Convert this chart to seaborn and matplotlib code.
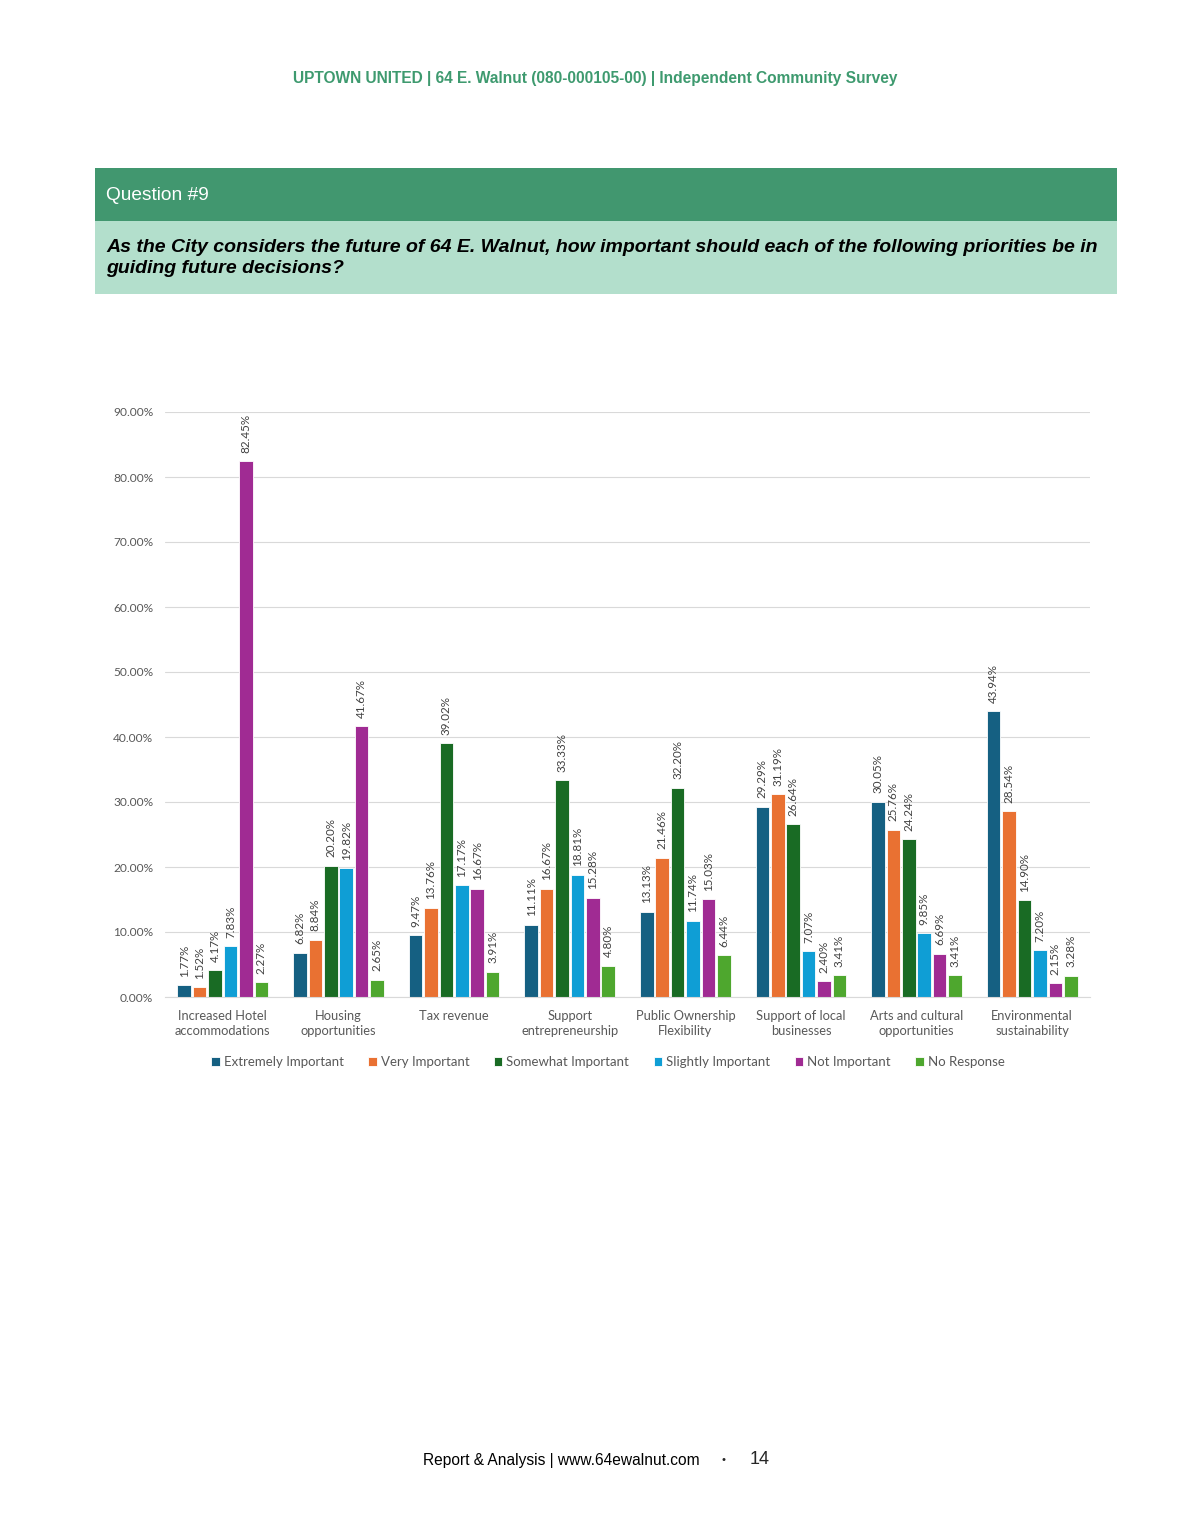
import numpy as np
import pandas as pd
import matplotlib
matplotlib.use("Agg")
import matplotlib.pyplot as plt
import seaborn as sns
from matplotlib.patches import Rectangle

# data (percent of responses)
categories = [
    "Increased Hotel\naccommodations",
    "Housing\nopportunities",
    "Tax revenue",
    "Support\nentrepreneurship",
    "Public Ownership\nFlexibility",
    "Support of local\nbusinesses",
    "Arts and cultural\nopportunities",
    "Environmental\nsustainability",
]
levels = ["Extremely Important", "Very Important", "Somewhat Important",
          "Slightly Important", "Not Important", "No Response"]

extremely = [1.77, 6.82, 9.47, 11.11, 13.13, 29.29, 30.05, 43.94]
very = [1.52, 8.84, 13.76, 16.67, 21.46, 31.19, 25.76, 28.54]
somewhat = [4.17, 20.20, 39.02, 33.33, 32.20, 26.64, 24.24, 14.90]
slightly = [7.83, 19.82, 17.17, 18.81, 11.74, 7.07, 9.85, 7.20]
not_imp = [82.45, 41.67, 16.67, 15.28, 15.03, 2.40, 6.69, 2.15]
no_resp = [2.27, 2.65, 3.91, 4.80, 6.44, 3.41, 3.41, 3.28]

yticks = [0, 10, 20, 30, 40, 50, 60, 70, 80, 90]

colors = ["#156082", "#E97132", "#196B24", "#0F9ED5", "#A02B93", "#4EA72E"]

wide = pd.DataFrame({
    "Category": categories,
    levels[0]: extremely,
    levels[1]: very,
    levels[2]: somewhat,
    levels[3]: slightly,
    levels[4]: not_imp,
    levels[5]: no_resp,
})
df = wide.melt(id_vars="Category", var_name="Level", value_name="Pct")

sns.set_style("white")
plt.rcParams["font.family"] = ["Lato", "DejaVu Sans"]

fig = plt.figure(figsize=(11.9, 15.4), dpi=100)

# page header
fig.text(0.5, 1 - 79 / 1540, "UPTOWN UNITED | 64 E. Walnut (080-000105-00) | Independent Community Survey",
         ha="center", va="center", fontsize=11.2, fontweight="bold", color="#3E9A6F",
         family="Liberation Sans")

# question boxes
fig.add_artist(Rectangle((95 / 1190, 1 - 221 / 1540), 1022 / 1190, 53 / 1540,
                         transform=fig.transFigure, color="#41976F", lw=0))
fig.add_artist(Rectangle((95 / 1190, 1 - 294 / 1540), 1022 / 1190, 73 / 1540,
                         transform=fig.transFigure, color="#B3DFCC", lw=0))
fig.text(106 / 1190, 1 - 195 / 1540, "Question #9", ha="left", va="center",
         fontsize=13.8, color="white", family="Liberation Sans")
fig.text(106 / 1190, 1 - 258 / 1540,
         "As the City considers the future of 64 E. Walnut, how important should each of the following priorities be in\nguiding future decisions?",
         ha="left", va="center", fontsize=14, fontweight="bold", style="italic",
         color="black", family="Liberation Sans", linespacing=1.25)

# chart
ax = fig.add_axes([165 / 1190, 1 - 997 / 1540, 925 / 1190, 585 / 1540])
sns.barplot(data=df, x="Category", y="Pct", hue="Level", hue_order=levels,
            palette=colors, width=0.8, gap=0.12, ax=ax,
            edgecolor="white", linewidth=0.6, saturation=1)

for cont, vals in zip(ax.containers, [extremely, very, somewhat, slightly, not_imp, no_resp]):
    ax.bar_label(cont, labels=[f"{v:.2f}%" for v in vals], rotation=90,
                 padding=6, fontsize=8.4, color="#404040")

ax.set_ylim(0, 90)
ax.set_xlim(-0.5, len(categories) - 0.5)
ax.set_yticks(yticks)
ax.set_yticklabels([f"{v:.2f}%" for v in yticks])
ax.yaxis.grid(True, color="#D9D9D9", lw=0.8)
ax.set_axisbelow(True)
ax.set_xlabel("")
ax.set_ylabel("")
for s in ["top", "right", "left"]:
    ax.spines[s].set_visible(False)
ax.spines["bottom"].set_color("#D9D9D9")
ax.tick_params(axis="y", length=0, labelsize=8.6, labelcolor="#595959", pad=8.5)
ax.tick_params(axis="x", which="major", length=0, labelsize=9.3, labelcolor="#595959", pad=9)
for lab in ax.get_xticklabels():
    lab.set_linespacing(1.35)
ax.set_xticks(np.arange(-0.5, len(categories), 1), minor=True)
ax.tick_params(axis="x", which="minor", length=5, color="#D9D9D9")

handles, labels = ax.get_legend_handles_labels()
ax.legend_.remove()
fig.legend(handles, labels, loc="center", bbox_to_anchor=(608 / 1190, 1 - 1062 / 1540),
           ncol=6, frameon=False, fontsize=9.5, handlelength=0.65, handleheight=0.65,
           handletextpad=0.3, columnspacing=1.85, labelcolor="#595959")

# footer
fig.text(700 / 1190, 1 - 1460 / 1540, "Report & Analysis | www.64ewalnut.com", ha="right",
         va="center", fontsize=11.2, family="Liberation Sans", color="black")
fig.text(724 / 1190, 1 - 1460 / 1540, "•", ha="center", va="center", fontsize=8,
         family="Liberation Sans")
fig.text(750 / 1190, 1 - 1459 / 1540, "14", ha="left", va="center", fontsize=13,
         family="Liberation Sans")

fig.savefig("out.png", dpi=100)
